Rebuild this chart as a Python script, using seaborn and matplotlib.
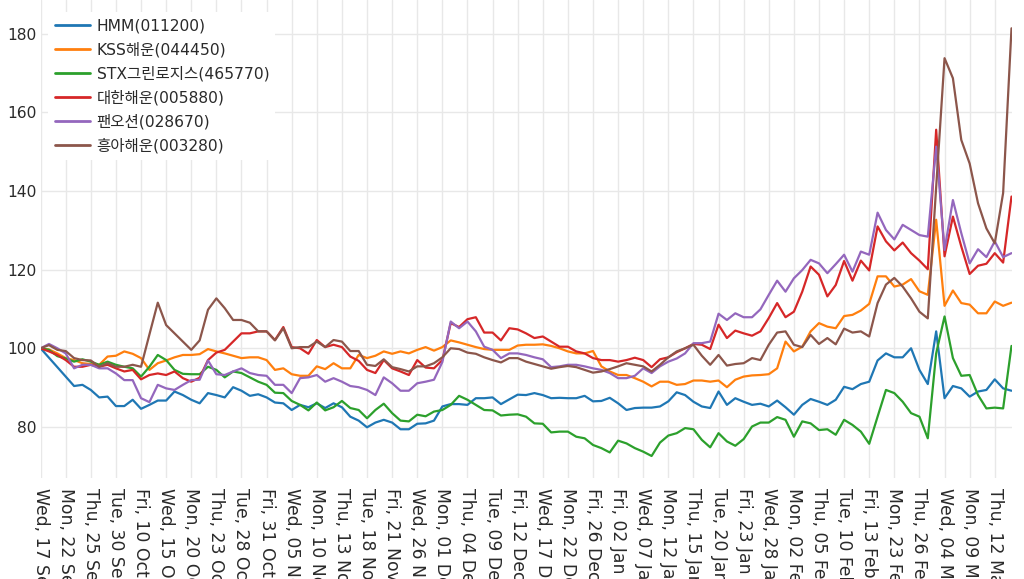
import numpy as np
import pandas as pd
import matplotlib
matplotlib.use("Agg")
import matplotlib.pyplot as plt
import seaborn as sns

# ---- trading days (KRX) ----
holidays = ["2025-10-03", "2025-10-06", "2025-10-07", "2025-10-08", "2025-10-09",
            "2025-12-25", "2025-12-31", "2026-01-01",
            "2026-02-16", "2026-02-17", "2026-02-18", "2026-03-02"]
dates = [d for d in pd.bdate_range("2025-09-17", "2026-03-16")
         if d.strftime("%Y-%m-%d") not in holidays]

series_names = ["HMM(011200)", "KSS해운(044450)", "STX그린로지스(465770)",
                "대한해운(005880)", "팬오션(028670)", "흥아해운(003280)"]
colors = ["#1f77b4", "#ff7f0e", "#2ca02c", "#d62728", "#9467bd", "#8c564b"]

hmm = [100, 97.6, 95.2, 92.8, 90.4, 90.7, 89.4, 87.5, 87.7, 85.3, 85.3, 86.9, 84.6, 85.6, 86.7, 86.7, 89.0, 88.1, 86.9, 86.0,
       88.6, 88.1, 87.5, 90.1, 89.2, 87.9, 88.3, 87.5, 86.2, 86.0,
       84.3, 85.6, 85.0, 86.0, 84.8, 86.0, 85.0, 82.6, 81.6, 79.9,
       81.1, 81.8, 81.1, 79.4, 79.4, 80.8, 80.9, 81.6, 85.2, 85.8,
       85.8, 85.6, 87.3, 87.3, 87.5, 85.8, 87.0, 88.2, 88.1, 88.6,
       88.1, 87.3, 87.4, 87.3, 87.3, 87.9, 86.5, 86.6, 87.4, 86.0,
       84.3, 84.8, 84.9, 84.9, 85.2, 86.5, 88.8, 88.1, 86.4, 85.2,
       84.8, 89.0, 85.6, 87.3, 86.4, 85.6, 85.9, 85.2, 86.7, 85.0,
       83.1, 85.6, 87.1, 86.4, 85.6, 86.9, 90.2, 89.6, 90.9, 91.5,
       96.9, 98.7, 97.7, 97.7, 100.0, 94.5, 90.9, 104.3, 87.3, 90.4,
       89.8, 87.7, 89.0, 89.4, 92.1, 89.8, 89.2]

kss = [100, 99.7, 98.7, 97.5, 97.0, 96.2, 96.0, 95.8, 97.9, 98.1, 99.2, 98.6, 97.5, 94.5, 96.2, 96.9, 97.7, 98.3, 98.3, 98.5,
       99.8, 99.2, 98.7, 98.1, 97.5, 97.7, 97.7, 97.0, 94.5, 94.9,
       93.4, 93.0, 93.0, 95.4, 94.7, 96.2, 94.9, 94.9, 98.3, 97.5,
       98.1, 99.2, 98.6, 99.2, 98.7, 99.6, 100.3, 99.4, 100.3, 102.0,
       101.5, 100.9, 100.3, 99.8, 99.6, 99.6, 99.6, 100.7, 100.9, 100.9,
       101.0, 100.6, 100.0, 99.2, 98.7, 98.7, 99.3, 95.4, 94.1, 93.2,
       93.2, 92.4, 91.5, 90.3, 91.5, 91.5, 90.7, 90.9, 91.8, 91.8,
       91.5, 91.8, 90.1, 92.0, 92.8, 93.1, 93.2, 93.4, 94.9, 101.7,
       99.2, 100.4, 104.3, 106.4, 105.5, 105.1, 108.2, 108.5, 109.6, 111.3,
       118.3, 118.3, 115.7, 116.2, 117.6, 114.5, 113.6, 132.7, 110.8, 114.7,
       111.5, 111.1, 108.9, 108.9, 111.9, 110.8, 111.6]

stx = [100, 99.6, 98.0, 97.4, 96.6, 97.2, 96.6, 95.8, 96.6, 95.8, 95.3, 94.9, 92.8, 95.3, 98.3, 97.0, 94.5, 93.5, 93.4, 93.4,
       95.3, 94.5, 92.6, 94.1, 93.7, 92.6, 91.5, 90.7, 88.7, 88.6,
       86.6, 85.6, 84.2, 86.2, 84.2, 85.0, 86.6, 84.8, 84.3, 82.2,
       84.3, 85.9, 83.5, 81.6, 81.4, 83.1, 82.7, 83.9, 84.3, 85.6,
       87.9, 86.9, 85.6, 84.3, 84.2, 82.9, 83.1, 83.2, 82.6, 80.9,
       80.8, 78.6, 78.8, 78.8, 77.5, 77.1, 75.4, 74.6, 73.5, 76.5,
       75.8, 74.6, 73.7, 72.6, 76.0, 77.8, 78.4, 79.7, 79.4, 76.7,
       74.8, 78.4, 76.3, 75.2, 76.9, 80.1, 81.1, 81.1, 82.5, 81.8,
       77.5, 81.4, 80.9, 79.2, 79.4, 78.0, 81.8, 80.5, 78.8, 75.7,
       82.6, 89.4, 88.6, 86.4, 83.5, 82.6, 77.1, 98.7, 108.1, 97.5,
       93.0, 93.2, 88.1, 84.7, 84.9, 84.7, 100.6]

daehan = [100, 99.2, 98.3, 97.0, 95.3, 95.3, 95.8, 95.3, 95.8, 94.9, 94.1, 94.5, 92.1, 93.2, 93.6, 93.2, 94.1, 92.4, 91.5, 92.5,
          97.0, 98.9, 99.6, 101.7, 103.8, 103.8, 104.3, 104.3, 102.1, 105.4,
          100.3, 100.0, 98.6, 102.1, 100.3, 100.9, 100.3, 97.9, 96.8, 94.5,
          93.7, 97.0, 94.9, 94.1, 93.2, 97.0, 95.1, 94.9, 97.0, 106.4,
          105.4, 107.4, 107.9, 104.0, 104.0, 102.0, 105.1, 104.8, 103.8, 102.6,
          103.0, 101.7, 100.4, 100.4, 99.2, 98.7, 97.5, 97.0, 97.0, 96.6,
          97.0, 97.6, 97.0, 95.2, 97.2, 97.7, 99.0, 100.0, 101.1, 100.9,
          99.8, 106.0, 102.6, 104.5, 103.8, 103.2, 104.3, 107.7, 111.5, 107.9,
          109.3, 114.4, 120.8, 118.7, 113.2, 116.1, 122.2, 117.2, 122.3, 119.8,
          131.0, 127.2, 124.9, 126.9, 124.2, 122.3, 120.1, 155.6, 123.4, 133.5,
          125.9, 118.9, 121.0, 121.5, 124.2, 121.8, 138.6]

pan = [100, 101.1, 100, 98.7, 94.9, 95.8, 95.8, 94.9, 94.9, 93.6, 91.9, 91.9, 87.3, 86.3, 90.7, 89.8, 89.4, 90.7, 91.9, 92.0,
       96.9, 93.4, 93.2, 94.1, 94.9, 93.7, 93.2, 93.0, 90.7, 90.7,
       88.6, 92.4, 92.6, 93.2, 91.5, 92.4, 91.5, 90.4, 90.1, 89.4,
       88.1, 92.6, 91.1, 89.2, 89.2, 91.1, 91.5, 92.0, 96.5, 106.8,
       105.1, 106.8, 104.3, 100.4, 99.6, 97.5, 98.7, 98.7, 98.3, 97.7,
       97.2, 95.2, 95.4, 95.8, 95.8, 95.4, 94.9, 94.5, 93.7, 92.4,
       92.4, 93.0, 94.9, 93.7, 95.4, 96.6, 97.4, 98.7, 101.3, 101.3,
       101.7, 108.8, 107.2, 108.9, 107.9, 107.9, 109.9, 113.6, 117.2, 114.4,
       117.8, 119.9, 122.5, 121.6, 119.1, 121.4, 123.8, 119.5, 124.6, 123.8,
       134.5, 130.1, 127.7, 131.4, 130.1, 128.8, 128.4, 151.3, 125.0, 137.7,
       129.3, 121.6, 125.2, 123.2, 127.2, 123.2, 124.2]

heunga = [100, 100.8, 99.6, 99.3, 97.5, 97.0, 96.9, 95.3, 96.2, 95.3, 95.3, 95.8, 95.3, 103.5, 111.6, 105.9, 103.8, 101.7, 99.6, 102.0,
          109.8, 112.7, 110.2, 107.2, 107.2, 106.5, 104.3, 104.3, 102.0, 105.1,
          100.0, 100.3, 100.3, 101.7, 100.3, 102.1, 101.7, 99.3, 99.3, 95.8,
          95.5, 97.2, 95.2, 94.7, 94.1, 95.4, 95.4, 96.2, 97.7, 100.0,
          99.8, 98.9, 98.6, 97.7, 97.0, 96.4, 97.5, 97.5, 96.6, 96.0,
          95.4, 94.8, 95.2, 95.5, 95.2, 94.5, 93.8, 94.1, 94.7, 95.4,
          96.2, 95.8, 95.4, 94.1, 95.8, 97.7, 99.2, 100.0, 100.9, 98.1,
          95.8, 98.3, 95.6, 96.0, 96.2, 97.5, 97.0, 100.9, 104.0, 104.3,
          100.9, 100.3, 103.4, 101.1, 102.6, 101.0, 105.0, 104.0, 104.3, 103.0,
          111.5, 116.2, 117.9, 115.7, 112.7, 109.3, 107.6, 141.0, 173.8, 168.7,
          153.0, 147.0, 136.9, 130.5, 126.7, 139.5, 181.4]

y_ticks = [80, 100, 120, 140, 160, 180]

all_series = [hmm, kss, stx, daehan, pan, heunga]
frames = []
for name, vals in zip(series_names, all_series):
    frames.append(pd.DataFrame({"idx": np.arange(len(vals)), "value": vals, "series": name}))
df = pd.concat(frames, ignore_index=True)

sns.set_theme(style="white")
plt.rcParams["font.family"] = ["DejaVu Sans", "Noto Sans CJK KR"]
text_color = "#2a2a2a"
fs = 11.2

fig = plt.figure(figsize=(10.24, 5.79), dpi=100)
ax = fig.add_axes([40.6 / 1024, 1 - 478 / 579, (1011.5 - 40.6) / 1024, 478 / 579])

sns.lineplot(data=df, x="idx", y="value", hue="series", hue_order=series_names,
             palette=colors, linewidth=1.6, ax=ax, sort=False)

ax.set_xlim(0, len(dates) - 1)
ax.set_ylim(67.0, 188.6)

tick_pos = list(range(0, len(dates), 3))
tick_labels = [dates[i].strftime("%a, %d %b") for i in tick_pos]
ax.set_xticks(tick_pos)
ax.set_xticklabels(tick_labels, rotation=-90, va="top", ha="center",
                   fontsize=12.4, color=text_color, rotation_mode="default")
ax.set_yticks(y_ticks)
ax.set_yticklabels([str(v) for v in y_ticks], fontsize=fs, color=text_color)
ax.tick_params(axis="both", length=0, pad=3)
ax.tick_params(axis="x", pad=7)

ax.grid(True, color="#e8e8e8", linewidth=1.0)
ax.set_axisbelow(True)
for s in ax.spines.values():
    s.set_visible(False)
ax.set_xlabel("")
ax.set_ylabel("")

handles, labels = ax.get_legend_handles_labels()
for h in handles:
    h.set_linewidth(2.0)
leg = ax.legend(handles, labels, loc="upper left", bbox_to_anchor=(0.008, 0.975),
                frameon=True, framealpha=1.0, facecolor="white", edgecolor="none",
                fontsize=fs, handlelength=2.25, handletextpad=0.45,
                labelspacing=0.55, borderpad=0.4, borderaxespad=0)
for t in leg.get_texts():
    t.set_color(text_color)
leg.get_frame().set_boxstyle("square", pad=0)

fig.savefig("out.png", dpi=100)
